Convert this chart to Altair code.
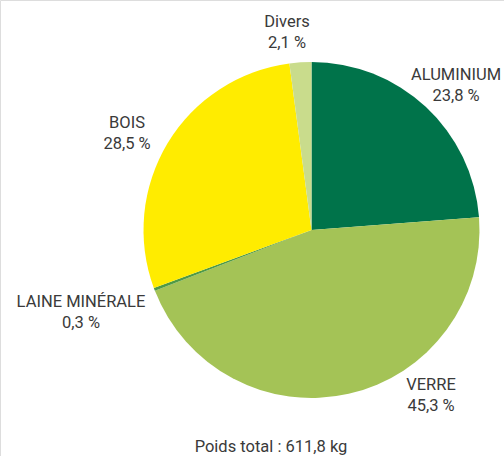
import altair as alt
import pandas as pd

categories = ["ALUMINIUM", "VERRE", "LAINE MINÉRALE", "BOIS", "Divers"]
values = [23.8, 45.3, 0.3, 28.5, 2.1]
value_labels = ["23,8 %", "45,3 %", "0,3 %", "28,5 %", "2,1 %"]
colors = ["#00734A", "#A4C356", "#4F9A45", "#FFEC00", "#C9DC8C"]
footer = "Poids total : 611,8 kg"

df = pd.DataFrame({
    "cat": categories,
    "val": values,
    "order": list(range(len(categories))),
    "label": [f"{c}\n{v}" for c, v in zip(categories, value_labels)],
})

base = alt.Chart(df)

pie = base.mark_arc(outerRadius=168, strokeWidth=0).encode(
    theta=alt.Theta("val:Q", stack=True),
    order=alt.Order("order:Q"),
    color=alt.Color("cat:N", scale=alt.Scale(domain=categories, range=colors), legend=None),
    x=alt.value(311.5),
    y=alt.value(230),
)

label_pos = {
    "ALUMINIUM": (456, 75),
    "VERRE": (431, 385),
    "LAINE MINÉRALE": (81, 302),
    "BOIS": (127, 123),
    "Divers": (287, 22),
}

FONT = "Roboto"
FS = 16.5
TXT = "#3A3A3A"

layers = [pie]
for cat, (lx, ly) in label_pos.items():
    layers.append(
        base.transform_filter(alt.datum.cat == cat).mark_text(
            font=FONT, fontSize=FS, color=TXT, lineBreak="\n",
            lineHeight=20.5, align="center", baseline="middle",
        ).encode(text="label:N", x=alt.value(lx), y=alt.value(ly))
    )

foot = alt.Chart(pd.DataFrame({"t": [footer]})).mark_text(
    font=FONT, fontSize=FS, color=TXT, align="center", baseline="middle"
).encode(text="t:N", x=alt.value(271), y=alt.value(447))
layers.append(foot)

chart = alt.layer(*layers).properties(
    width=504, height=456, autosize=alt.AutoSizeParams(type="none"), padding=0
).configure_view(stroke=None).configure(background="white")

chart.save("out.html", embed_options={"renderer": "svg", "actions": False})
